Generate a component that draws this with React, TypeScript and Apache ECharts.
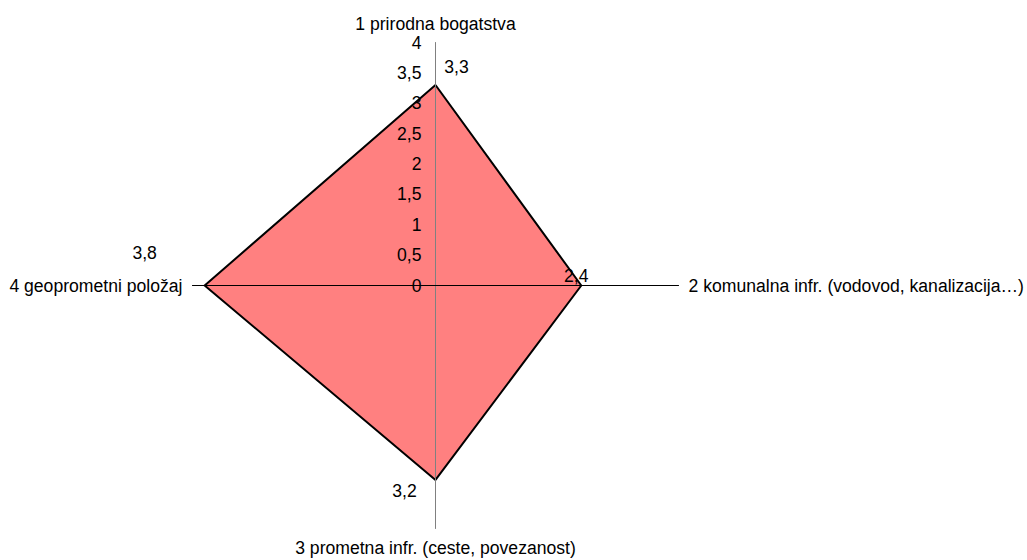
import React, { useEffect, useRef } from 'react';
import * as echarts from 'echarts';

const categories = [
  '1 prirodna bogatstva',
  '2 komunalna infr. (vodovod, kanalizacija…)',
  '3 prometna infr. (ceste, povezanost)',
  '4 geoprometni položaj',
];
const values = [3.3, 2.4, 3.2, 3.8];
const axisMin = 0;
const axisMax = 4;
const tickStep = 0.5;

const FONT = '"Liberation Sans", Arial, sans-serif';
const FS = 17.6;
const CX = 435.5;
const CY = 285.5;
const R = 243;

// label offsets (px) for each category's value label, Excel-like placement
const labelOffsets = [
  [21, -18],
  [-5, -10],
  [-31, 11],
  [-60, -33],
];

const fmt = (v: number) => String(v).replace('.', ',');

// ECharts radar runs counter-clockwise; reorder so categories run clockwise
const order = [0, 3, 2, 1];

export default function App() {
  const ref = useRef<HTMLDivElement>(null);
  useEffect(() => {
    document.body.style.margin = '0';
    if (!ref.current) return;
    const chart = echarts.init(ref.current, null, { renderer: 'svg' });
    const radarValues = order.map((i) => values[i]);
    const labelSeries = categories.map((_, k) => ({
      type: 'radar',
      radarIndex: 0,
      z: 4,
      symbol: 'circle',
      symbolSize: 1,
      itemStyle: { color: 'rgba(0,0,0,0)' },
      lineStyle: { width: 0, opacity: 0 },
      data: [
        {
          value: radarValues,
          label: {
            show: true,
            position: 'inside',
            offset: labelOffsets[k],
            color: '#000',
            fontSize: FS,
            fontFamily: FONT,
            formatter: (p: any) => {
              const v = Array.isArray(p.value) ? null : p.value;
              return v === values[k] ? fmt(values[k]) : '';
            },
          },
        },
      ],
    }));
    chart.setOption({
      animation: false,
      backgroundColor: '#fff',
      textStyle: { fontFamily: FONT },
      radar: {
        center: [CX, CY],
        radius: R,
        startAngle: 90,
        shape: 'polygon',
        splitNumber: 8,
        z: 5,
        axisName: { color: '#000', fontSize: FS, fontFamily: FONT },
        nameGap: 10,
        axisLine: { lineStyle: { color: '#808080', width: 1 } },
        axisTick: { show: false },
        axisLabel: { show: false },
        splitLine: { show: false },
        splitArea: { show: false },
        indicator: order.map((i) => ({ name: categories[i], min: axisMin, max: axisMax })),
      },
      grid: [
        { left: CX, top: CY - R, width: 1, height: R, containLabel: false },
        { left: CX - R, top: CY, width: 2 * R, height: 1, containLabel: false },
      ],
      yAxis: [
        {
          type: 'value',
          gridIndex: 0,
          min: axisMin,
          max: axisMax,
          interval: tickStep,
          axisLine: { show: false },
          axisTick: { show: false },
          splitLine: { show: false },
          axisLabel: {
            margin: 14,
            color: '#000',
            fontSize: FS,
            fontFamily: FONT,
            formatter: (v: number) => fmt(v),
          },
          z: 6,
        },
        {
          type: 'value',
          gridIndex: 1,
          show: false,
        },
      ],
      xAxis: [
        { type: 'value', gridIndex: 0, show: false },
        {
          type: 'value',
          gridIndex: 1,
          position: 'top',
          min: -axisMax,
          max: axisMax,
          axisLine: { show: true, onZero: false, lineStyle: { color: '#000', width: 1 } },
          axisTick: { show: false },
          axisLabel: { show: false },
          splitLine: { show: false },
          z: 6,
        },
      ],
      series: [
        {
          type: 'radar',
          radarIndex: 0,
          z: 2,
          symbol: 'none',
          lineStyle: { width: 0, opacity: 0 },
          areaStyle: { color: '#FF8080', opacity: 1 },
          data: [{ value: radarValues }],
        },
        {
          type: 'radar',
          radarIndex: 0,
          z: 3,
          symbol: 'none',
          lineStyle: { color: '#000', width: 2 },
          data: [{ value: radarValues }],
        },
        ...labelSeries,
      ],
    });
    return () => chart.dispose();
  }, []);
  return <div ref={ref} style={{ width: 1027, height: 560 }} />;
}
